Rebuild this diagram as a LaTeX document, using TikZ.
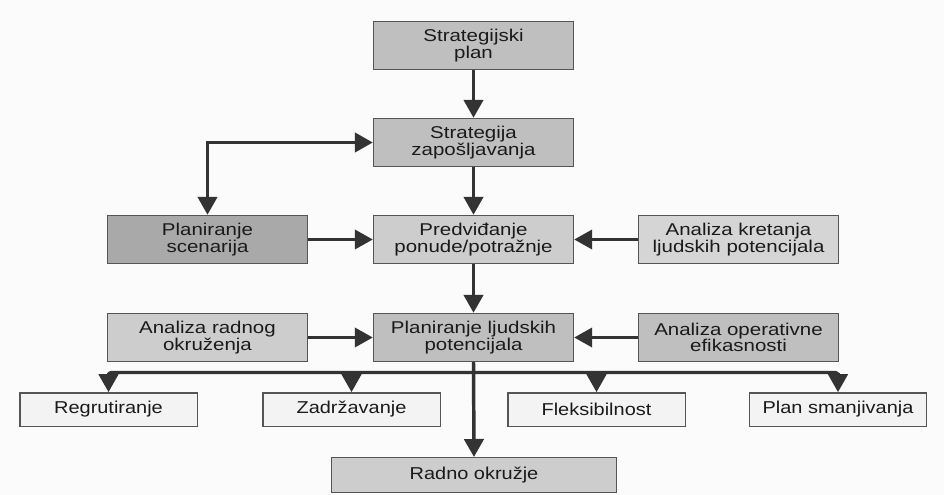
\documentclass[tikz,border=0pt]{standalone}
\usepackage{fontspec}
\newfontfamily\boxfont[FakeStretch=1.2]{Liberation Sans}
\newfontfamily\leaffont[FakeStretch=1.16]{Liberation Sans}
\usetikzlibrary{arrows.meta}
\definecolor{bgcol}{HTML}{FBFBFB}
\definecolor{edgecol}{HTML}{555555}
\definecolor{linecol}{HTML}{333333}
\definecolor{textcol}{HTML}{1A1A1A}
\definecolor{midgray}{HTML}{BFBFBF}
\definecolor{darkgray}{HTML}{A9A9A9}
\definecolor{lightgray}{HTML}{CDCDCD}
\definecolor{palegray}{HTML}{D5D5D5}
\definecolor{leafgray}{HTML}{F3F3F3}
\tikzset{
  box/.style={draw=edgecol, line width=1.1pt, minimum width=150pt, minimum height=36pt,
    inner sep=0pt, align=center, text=textcol, font=\boxfont\fontsize{12.8}{12.2}\selectfont},
  leaf/.style={draw=edgecol, line width=1pt, fill=leafgray, minimum width=133pt, minimum height=25pt,
    inner sep=0pt, align=center, text=textcol, font=\leaffont\fontsize{12.9}{14}\selectfont},
  tip/.style={-{Triangle[length=13.5pt,width=14.5pt]}},
  flow/.style={draw=linecol, line width=2.6pt, tip},
  bus/.style={draw=linecol, line width=2.4pt, rounded corners=2pt},
}
\begin{document}
\begin{tikzpicture}[x=0.75pt, y=-0.75pt]
  \fill[bgcol] (0,0) rectangle (944,495);
  \useasboundingbox (0,0) rectangle (944,495);

  % main column
  \node[box, fill=midgray]   (sp) at (473.5,45.5)  {Strategijski\\plan};
  \node[box, fill=midgray]   (sz) at (473.5,142.5) {Strategija\\zapošljavanja};
  \node[box, fill=lightgray] (pp) at (473.5,239.5) {Predviđanje\\ponude/potražnje};
  \node[box, fill=midgray]   (pl) at (473.5,337.5) {Planiranje ljudskih\\potencijala};

  % side inputs
  \node[box, fill=darkgray]  (ps) at (207.5,239.5) {Planiranje\\scenarija};
  \node[box, fill=palegray]  (ak) at (738.5,239.5) {Analiza kretanja\\ljudskih potencijala};
  \node[box, fill=lightgray] (ar) at (207.5,337.5) {Analiza radnog\\okruženja};
  \node[box, fill=midgray]   (ao) at (738.5,337.5) {Analiza operativne\\efikasnosti};

  % outcomes
  \node[leaf] (reg) at (108.5,409.5) {Regrutiranje};
  \node[leaf] (zad) at (351.5,409.5) {Zadržavanje};
  \node[leaf] (fle) at (596.5,409.5) {Fleksibilnost};
  \node[leaf] (smj) at (838,409.5)   {Plan smanjivanja};
  \node[leaf, fill=lightgray, minimum width=214pt, minimum height=26pt] (rad) at (474,475) {Radno okružje};

  % distribution bus below the planning box
  \coordinate (busL) at (108.5,372.5);
  \coordinate (busR) at (838,372.5);
  \coordinate (busM) at (473.5,372.5);

  % connectors
  \draw[flow] (sp) -- (sz);
  \draw[flow] (sz) -- (pp);
  \draw[flow] (pp) -- (pl);
  \draw[flow, {Triangle[length=13.5pt,width=14.5pt]}-{Triangle[length=13.5pt,width=14.5pt]}] (ps.north) |- (sz.west);
  \draw[flow, line width=2.2pt] (ps) -- (pp);
  \draw[flow, line width=2.2pt] (ak) -- (pp);
  \draw[flow, line width=2.2pt] (ar) -- (pl);
  \draw[flow, line width=2.2pt] (ao) -- (pl);

  \draw[bus] (reg.north) ++(0,-8) |- (busR) -- ++(0,8);
  \draw[flow] (busL) -- (reg.north);
  \draw[flow] (busR) -- (smj.north);
  \draw[flow] (zad.north |- busM) -- (zad.north);
  \draw[flow] (fle.north |- busM) -- (fle.north);
  \draw[flow] (pl.south) -- (rad.north);
\end{tikzpicture}
\end{document}
